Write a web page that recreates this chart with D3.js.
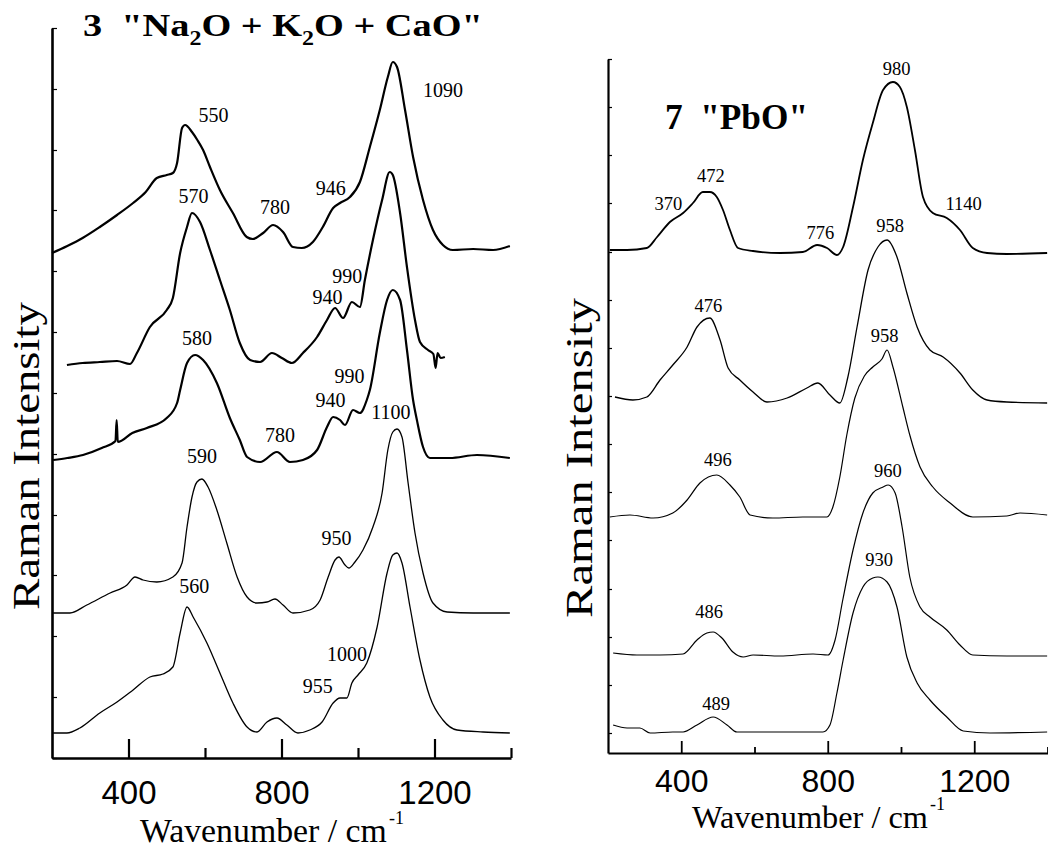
<!DOCTYPE html>
<html><head><meta charset="utf-8">
<script src="https://cdnjs.cloudflare.com/ajax/libs/d3/7.8.5/d3.min.js"></script>
<style>
body{margin:0;background:#fff}svg{display:block}
.serif{font-family:"Liberation Serif","Times New Roman",Times,"Nimbus Roman",serif}
.sans{font-family:"Liberation Sans",Arial,Helvetica,sans-serif}
</style>
</head><body>
<svg id="chart" width="1048" height="856"></svg>
<script>
// ---------- data ----------
const xMajorTicks = [400, 800, 1200];
const xMinorTicks = [600, 1000, 1400];
const xTickLabels = ["400", "800", "1200"];
const yTicksLeft = [0, 61, 122, 183, 243, 304, 365, 426, 487, 548, 608, 669, 730];
const yTicksRight = [20, 68, 116, 164, 213, 261, 309, 357, 405, 453, 501, 550, 598, 646, 694];

const titleLeft = ["3  \"Na", "2", "O + K", "2", "O + CaO\""];
const titleRight = "7  \"PbO\"";
const yLabel = "Raman Intensity";
const xLabel = "Wavenumber / cm";
const xLabelSup = "-1";

// left panel spectra [wavenumber, intensity a.u.]
const leftA = [[200,505],[240,512],[280,520],[325,531],[370,543],[412,555],[445,566],[474,580],[500,583],[516,585],[527,595],[540,630],[548,633],[566,626],[580,618],[595,608],[613,591],[639,568],[673,545],[709,521],[725,519],[752,525],[778,533],[804,526],[830,511],[853,510],[882,516],[908,531],[935,550],[953,555],[979,561],[1005,576],[1031,611],[1057,648],[1078,681],[1091,696],[1102,691],[1123,648],[1144,601],[1170,558],[1196,528],[1222,513],[1248,508],[1301,509],[1353,508],[1397,512]];
const leftB = [[239,393],[280,395],[325,396],[370,397],[404,394],[422,405],[456,431],[500,448],[516,460],[535,505],[553,531],[566,545],[587,536],[613,508],[639,478],[665,448],[691,415],[718,398],[744,396],[775,405],[801,400],[827,395],[856,405],[893,421],[919,438],[940,450],[961,440],[984,456],[1005,451],[1018,478],[1039,518],[1063,558],[1083,586],[1091,583],[1110,545],[1128,491],[1149,438],[1162,416],[1183,408],[1197,404],[1203,390],[1208,405],[1216,400],[1227,401]];
const leftC = [[203,298],[240,300],[281,303],[330,310],[366,317],[369,338],[372,316],[410,325],[448,330],[500,340],[527,355],[535,368],[553,395],[574,403],[595,398],[631,375],[665,340],[691,318],[710,301],[744,296],[788,306],[822,296],[856,298],[893,308],[919,331],[935,341],[953,338],[966,333],[987,348],[1005,345],[1023,358],[1031,368],[1057,425],[1076,458],[1091,468],[1110,458],[1128,408],[1144,358],[1154,338],[1170,311],[1188,300],[1240,300],[1311,303],[1397,300]];
const leftD = [[203,145],[247,145],[291,153],[352,165],[396,173],[417,181],[438,178],[474,176],[516,181],[540,195],[553,231],[566,261],[579,276],[592,279],[608,271],[631,248],[657,215],[684,181],[710,161],[736,155],[762,156],[783,159],[804,153],[830,145],[874,148],[901,158],[922,181],[940,198],[950,201],[966,193],[976,190],[992,196],[1013,208],[1039,231],[1063,265],[1078,308],[1091,326],[1102,329],[1115,321],[1131,275],[1149,225],[1170,185],[1196,155],[1233,146],[1301,145],[1397,145]];
const leftE = [[203,25],[239,25],[273,30],[325,45],[370,56],[412,68],[456,81],[490,84],[516,91],[535,125],[553,151],[569,141],[605,115],[639,85],[673,55],[710,31],[736,26],[762,36],[788,40],[814,33],[843,25],[874,28],[906,36],[935,55],[953,60],[971,60],[984,75],[1000,83],[1023,95],[1050,131],[1076,185],[1091,203],[1102,205],[1115,195],[1136,151],[1162,98],[1188,61],[1222,38],[1259,28],[1327,26],[1397,25]];

// right panel spectra
const right1 = [[205,503],[252,503],[306,505],[334,516],[369,531],[405,540],[432,550],[459,561],[478,561],[497,556],[514,543],[533,523],[555,505],[596,502],[670,500],[732,501],[771,508],[798,505],[825,498],[842,506],[869,546],[896,593],[923,630],[951,663],[978,671],[997,666],[1016,646],[1038,603],[1060,556],[1087,540],[1125,535],[1161,523],[1196,505],[1235,500],[1289,499],[1399,500]];
const right2 = [[219,356],[268,353],[306,356],[342,373],[377,388],[416,406],[443,426],[478,435],[506,413],[528,385],[560,373],[596,361],[634,351],[689,355],[743,365],[773,370],[806,358],[833,350],[855,376],[880,426],[910,483],[937,506],[962,513],[989,496],[1016,460],[1044,426],[1079,403],[1115,396],[1161,380],[1196,363],[1235,353],[1289,351],[1399,350]];
const right3 = [[205,236],[260,238],[323,235],[377,240],[416,253],[451,270],[497,278],[533,268],[560,256],[588,238],[650,235],[732,236],[798,236],[814,246],[833,276],[852,318],[874,355],[900,377],[923,386],[948,394],[962,403],[978,386],[1005,346],[1024,318],[1052,286],[1087,266],[1134,250],[1196,236],[1289,237],[1325,240],[1399,238]];
const right4 = [[214,100],[279,98],[342,98],[405,99],[443,113],[470,120],[487,121],[511,115],[541,101],[569,96],[596,98],[670,97],[760,99],[801,98],[820,113],[841,153],[869,203],[896,240],[923,260],[951,266],[965,268],[984,260],[1003,226],[1024,176],[1052,146],[1079,136],[1125,123],[1161,108],[1196,98],[1289,97],[1399,97]];
const right5 = [[214,28],[252,25],[287,25],[315,20],[377,21],[405,21],[443,28],[487,36],[525,28],[552,21],[615,21],[670,21],[787,21],[806,28],[825,60],[842,93],[869,140],[896,166],[923,175],[937,176],[962,171],[989,146],[1016,96],[1044,70],[1079,53],[1125,36],[1170,22],[1243,20],[1399,21]];

// peak labels [text, wavenumber, intensity]
const leftPeaks = [["1090",1222,661],["550",622,636],["946",929,563],["780",783,544],["570",570,555],["990",972,475],["940",920,454],["580",579,413],["990",978,375],["940",928,351],["1100",1086,339],["780",796,316],["590",592,295],["950",944,213],["560",572,165],["1000",971,97],["955",895,65]];
const rightPeaks = [["980",988,678],["472",481,571],["370",365,543],["776",780,514],["958",970,521],["1140",1171,543],["476",474,441],["958",955,411],["496",500,287],["960",964,276],["930",940,187],["486",476,135],["489",495,43]];

// ---------- drawing ----------
const svg = d3.select("#chart");

function panel(cfg) {
  const g = svg.append("g");
  const x = d3.scaleLinear().domain([200, 1400]).range([cfg.x0, cfg.x1]);
  const y = d3.scaleLinear().domain(cfg.yDomain).range([cfg.yBottom, cfg.yTop]);

  const axMaj = d3.axisBottom(x).tickValues(xMajorTicks)
    .tickFormat((d, i) => xTickLabels[i]).tickSizeInner(-cfg.majLen).tickSizeOuter(0);
  const gx = g.append("g").attr("transform", `translate(0,${cfg.yBottom})`).call(axMaj);
  gx.attr("font-family", null).attr("font-size", null);
  gx.select(".domain").attr("stroke-width", cfg.axisW);
  gx.selectAll(".tick line").attr("stroke-width", cfg.tickW);
  gx.selectAll(".tick text").attr("class", "sans").style("font-size", cfg.tickFont + "px")
    .attr("y", cfg.tickBase).attr("dy", 0).attr("fill", "#000");
  const axMin = d3.axisBottom(x).tickValues(xMinorTicks).tickFormat("")
    .tickSizeInner(-cfg.minLen).tickSizeOuter(0);
  const gm = g.append("g").attr("transform", `translate(0,${cfg.yBottom})`).call(axMin);
  gm.select(".domain").remove();
  gm.selectAll(".tick line").attr("stroke-width", cfg.tickW);

  const ay = d3.axisLeft(y).tickValues(cfg.yTicks).tickFormat("").tickSizeInner(-cfg.yTickLen).tickSizeOuter(0);
  const gy = g.append("g").attr("transform", `translate(${cfg.x0},0)`).call(ay);
  gy.select(".domain").attr("stroke-width", cfg.axisW);
  gy.selectAll(".tick line").attr("stroke-width", 1.2);

  const line = d3.line().x(d => x(d[0])).y(d => y(d[1])).curve(d3.curveMonotoneX);
  cfg.series.forEach(s => {
    g.append("path").datum(s.data).attr("d", line)
      .attr("fill", "none").attr("stroke", "#000").attr("stroke-width", s.w)
      .attr("stroke-linejoin", "round");
  });

  g.selectAll("text.peak").data(cfg.peaks).enter().append("text")
    .attr("class", "serif").attr("x", d => x(d[1])).attr("y", d => y(d[2]))
    .attr("text-anchor", "middle").style("font-size", cfg.peakFont + "px").text(d => d[0]);

  const yl = g.append("text").attr("class", "serif").style("font-size", cfg.yLabFont + "px")
    .attr("text-anchor", "middle").text(yLabel);
  const ylw = yl.node().getComputedTextLength();
  yl.attr("transform", `translate(${cfg.yLabX},${cfg.yLabY}) rotate(-90) scale(${cfg.yLabLen / ylw},1)`);

  const xl = g.append("text").attr("class", "serif").style("font-size", cfg.xLabFont + "px").text(xLabel);
  const xlw = xl.node().getComputedTextLength();
  xl.attr("transform", `translate(${cfg.xLab0},${cfg.xLabBase}) scale(${cfg.xLabLen / xlw},1)`);
  g.append("text").attr("class", "serif").style("font-size", "18px")
    .attr("x", cfg.xLab0 + cfg.xLabLen + 2).attr("y", cfg.xLabBase - 18).text(xLabelSup);
  return g;
}

panel({
  x0: 52, x1: 511, yBottom: 758, yTop: 28, yDomain: [0, 730], yTicks: yTicksLeft,
  axisW: 2.6, tickW: 2.2, majLen: 19, minLen: 10, yTickLen: 5,
  tickFont: 33, tickBase: 46, peakFont: 20,
  yLabFont: 38, yLabX: 39, yLabY: 456, yLabLen: 308,
  xLabFont: 34, xLab0: 140, xLabBase: 842, xLabLen: 247,
  series: [{data: leftA, w: 2.2}, {data: leftB, w: 2.2}, {data: leftC, w: 2.2}, {data: leftD, w: 1.3}, {data: leftE, w: 1.3}],
  peaks: leftPeaks
});

panel({
  x0: 608, x1: 1047.5, yBottom: 753, yTop: 59, yDomain: [0, 694], yTicks: yTicksRight,
  axisW: 2.2, tickW: 1.8, majLen: 12, minLen: 6, yTickLen: 4,
  tickFont: 32, tickBase: 39, peakFont: 18.5,
  yLabFont: 38, yLabX: 592, yLabY: 458, yLabLen: 320,
  xLabFont: 32, xLab0: 692, xLabBase: 828, xLabLen: 236,
  series: [{data: right1, w: 1.8}, {data: right2, w: 1.3}, {data: right3, w: 1.2}, {data: right4, w: 1.2}, {data: right5, w: 1.2}],
  peaks: rightPeaks
});

// titles
const tl = svg.append("text").attr("class", "serif").style("font-weight", "bold")
  .style("font-size", "32px").style("white-space", "pre");
titleLeft.forEach((t, i) => {
  const sub = i % 2 === 1;
  tl.append("tspan").text(t).style("font-size", sub ? "20px" : "32px").attr("dy", sub ? 9 : (i > 0 ? -9 : 0));
});
const tlw = tl.node().getBBox().width;
tl.attr("transform", `translate(83,36) scale(${400 / tlw},1)`);

const tr = svg.append("text").attr("class", "serif").style("font-weight", "bold")
  .style("font-size", "36px").style("white-space", "pre").text(titleRight);
const trw = tr.node().getBBox().width;
tr.attr("transform", `translate(665,129) scale(${143 / trw},1)`);
</script>
</body></html>
